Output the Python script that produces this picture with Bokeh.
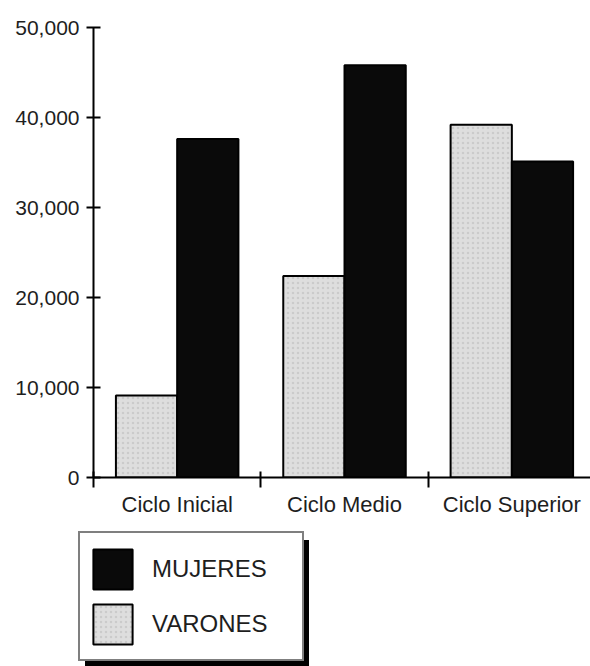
from bokeh.plotting import figure
from bokeh.layouts import column
from bokeh.models import (ColumnDataSource, Range1d, FixedTicker, NumeralTickFormatter,
                          Legend, LegendItem)
from bokeh.embed import file_html
from bokeh.resources import INLINE

categories = ["Ciclo Inicial", "Ciclo Medio", "Ciclo Superior"]
varones = [9100, 22400, 39200]
mujeres = [37600, 45800, 35100]
y_ticks = [0, 10000, 20000, 30000, 40000, 50000]
series_labels = ["MUJERES", "VARONES"]

FONT = "Liberation Sans"
TXT = "#1e1e1e"
LIGHT = "#dedede"
DARK = "#0a0a0a"

n = len(categories)
centers = [i + 0.5 for i in range(n)]          # category centres on the x scale
boundaries = [float(i) for i in range(n)]      # separator tick positions
w = 0.366                                      # bar width (in category units)

src = ColumnDataSource(dict(
    cat=categories, varones=varones, mujeres=mujeres,
    xv=[c - w / 2 for c in centers], xm=[c + w / 2 for c in centers]))

W = 590
H1 = 525
H2 = 666 - H1

p = figure(width=W, height=H1, x_range=Range1d(0, n - 0.03), y_range=Range1d(0, 50000),
           output_backend="svg", toolbar_location=None,
           min_border_left=93, min_border_right=0, min_border_top=27, min_border_bottom=48)
p.grid.visible = False
p.outline_line_color = None
p.frame_align = False

ya = p.yaxis[0]
ya.ticker = FixedTicker(ticks=y_ticks)
ya.formatter = NumeralTickFormatter(format="0,0")
ya.axis_line_width = 2
ya.axis_line_color = "black"
ya.major_tick_in = 7
ya.major_tick_out = 7
ya.major_tick_line_width = 2
ya.major_tick_line_color = "black"
ya.minor_tick_line_color = None
ya.major_label_text_font = FONT
ya.major_label_text_font_size = "21px"
ya.major_label_text_color = TXT
ya.major_label_standoff = 7

xa = p.xaxis[0]
xa.ticker = FixedTicker(ticks=centers, minor_ticks=boundaries)
xa.major_label_overrides = {c: lab for c, lab in zip(centers, categories)}
xa.axis_line_width = 2
xa.axis_line_color = "black"
xa.major_tick_line_color = None
xa.major_tick_in = 0
xa.major_tick_out = 0
xa.minor_tick_line_color = "black"
xa.minor_tick_line_width = 2
xa.minor_tick_in = 6
xa.minor_tick_out = 10
xa.major_label_text_font = FONT
xa.major_label_text_font_size = "22px"
xa.major_label_text_color = TXT
xa.major_label_standoff = 4

bar_v = dict(fill_color=LIGHT, line_color="black", line_width=2,
             hatch_pattern="dot", hatch_color="#cbcbcb", hatch_scale=5, hatch_weight=1)
bar_m = dict(fill_color=DARK, line_color="black", line_width=2)

p.vbar(x="xv", top="varones", width=w, source=src, **bar_v)
p.vbar(x="xm", top="mujeres", width=w, source=src, **bar_m)

# ---- legend panel (separate, axis-less figure below the chart) ----
q = figure(width=W, height=H2, x_range=Range1d(0, 1), y_range=Range1d(0, 1),
           output_backend="svg", toolbar_location=None,
           x_axis_location=None, y_axis_location=None,
           min_border=0, min_border_left=0, min_border_right=0,
           min_border_top=0, min_border_bottom=0)
q.grid.visible = False
q.outline_line_color = None
q.frame_align = False

# hidden renderers that only provide the legend swatches
lv = q.vbar(x="xv", top="varones", width=w, source=src, visible=False, **bar_v)
lm = q.vbar(x="xm", top="mujeres", width=w, source=src, visible=False, **bar_m)

shadow = Legend(items=[LegendItem(label="", renderers=[lm])], location=(85, -2),
                padding=0, spacing=0, margin=0, glyph_width=222, glyph_height=126,
                label_standoff=0, label_width=0, label_height=0,
                background_fill_color="black", background_fill_alpha=1,
                border_line_color="black", border_line_width=1)
q.add_layout(shadow, "center")

legend = Legend(items=[LegendItem(label=series_labels[0], renderers=[lm]),
                       LegendItem(label=series_labels[1], renderers=[lv])],
                location=(78, 5), margin=0, padding=8, spacing=0,
                glyph_width=49, glyph_height=50, label_standoff=15,
                label_width=142, label_height=55,
                label_text_font=FONT, label_text_font_size="24px", label_text_color=TXT,
                background_fill_color="white", background_fill_alpha=1,
                border_line_color="black", border_line_width=2)
q.add_layout(legend, "center")

layout = column(p, q, spacing=0)
open("out.html", "w").write(file_html(layout, INLINE))
